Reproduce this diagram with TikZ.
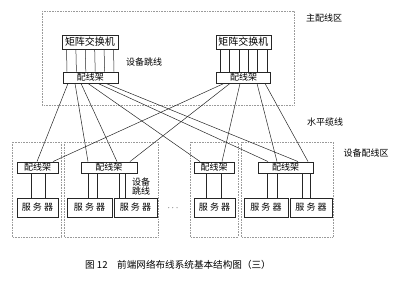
\documentclass[tikz,border=0pt]{standalone}
\usepackage{fontspec}
\newfontfamily\cjk{Noto Sans CJK SC}
\usepackage{tikz}
\usetikzlibrary{calc,positioning}
\definecolor{linec}{HTML}{262626}
\definecolor{zonec}{HTML}{9A9A9A}
\tikzset{
  sw/.style={draw=linec,line width=0.9pt,minimum height=14pt,inner sep=0pt,font=\cjk\fontsize{10}{10}\selectfont},
  pnl/.style={draw=linec,line width=0.9pt,minimum height=11pt,inner sep=0pt,font=\cjk\fontsize{9}{9}\selectfont},
  srv/.style={draw=linec,line width=0.9pt,minimum height=19pt,inner sep=0pt,font=\cjk\fontsize{9}{9}\selectfont},
  zone/.style={draw=zonec,densely dotted,line width=0.6pt},
  wire/.style={linec,line width=0.5pt},
  lbl/.style={font=\cjk\fontsize{9}{9}\selectfont,inner sep=0pt,align=left}
}

\begin{document}
\begin{tikzpicture}[x=1pt,y=-1pt]
\useasboundingbox (0,0) rectangle (400,283);
% zones
\draw[zone] (42,11) rectangle (294,105);
\draw[zone] (12,142) rectangle (61,237);
\draw[zone] (64,142) rectangle (158,237);
\draw[zone] (190,142) rectangle (238,237);
\draw[zone] (241,142) rectangle (333,237);
% main distribution
\node[sw,minimum width=56pt] (swL) at (90,42) {矩阵交换机};
\node[sw,minimum width=55pt] (swR) at (243.5,42) {矩阵交换机};
\node[pnl,minimum width=55pt] (pnL) at (90.5,77.5) {配线架};
\node[pnl,minimum width=54pt] (pnR) at (243.5,77.5) {配线架};
\foreach \d in {-23.5,-14.1,-4.7,4.7,14.1,23.5}{
  \draw[wire] ([xshift=\d pt]swL.south) -- ([xshift=\d pt]pnL.north);
  \draw[wire] ([xshift=\d pt]swR.south) -- ([xshift=\d pt]pnR.north);
}
% equipment distribution
\node[pnl,minimum width=41pt] (P1) at (37.5,167.5) {配线架};
\node[pnl,minimum width=56pt] (P2) at (109,167.5) {配线架};
\node[pnl,minimum width=40pt] (P3) at (214,167.5) {配线架};
\node[pnl,minimum width=55pt] (P4) at (285.5,167.5) {配线架};
\node[srv,minimum width=41pt] (S1) at (37.5,207.5) {服 务 器};
\node[srv,minimum width=45pt] (S2) at (89.5,207.5) {服 务 器};
\node[srv,minimum width=43pt] (S3) at (135.5,207.5) {服 务 器};
\node[srv,minimum width=41pt] (S4) at (214.5,207.5) {服 务 器};
\node[srv,minimum width=44pt] (S5) at (266,207.5) {服 务 器};
\node[srv,minimum width=42pt] (S6) at (311,207.5) {服 务 器};
% horizontal cables
\foreach \a/\b/\t in {68/37/P1,75/88/P2,81/117/P2,88/200/P3,98/268/P4,106/298/P4}
  \draw[wire] (pnL.south -| \a,0) -- (\t.north -| \b,0);
\foreach \a/\b/\t in {224/53/P1,230/130/P2,240/222/P3,257/277/P4,265/308/P4}
  \draw[wire] (pnR.south -| \a,0) -- (\t.north -| \b,0);
% patch cords
\foreach \a/\p/\s in {31/P1/S1,45/P1/S1,88/P2/S2,97.7/P2/S2,119/P2/S3,125/P2/S3,
  206.7/P3/S4,221.7/P3/S4,267/P4/S5,277/P4/S5,302/P4/S6,310/P4/S6}
  \draw[wire] (\p.south -| \a,0) -- (\s.north -| \a,0);
% labels
\node[lbl] (mda) at (324,18) {主配线区};
\node[lbl] (jmp) at (144,62) {设备跳线};
\node[lbl] (hcab) at (325,122) {水平缆线};
\node[lbl] (eda) at (366,153) {设备配线区};
\node[lbl] (jmp2) at (141,187) {设备\\跳线};
\node[lbl] (dots) at (173,208) {$\cdots$};
\node[lbl,font=\cjk\fontsize{9.6}{9.6}\selectfont] (cap) at (178,265) {图 12\quad 前端网络布线系统基本结构图（三）};
\end{tikzpicture}
\end{document}
